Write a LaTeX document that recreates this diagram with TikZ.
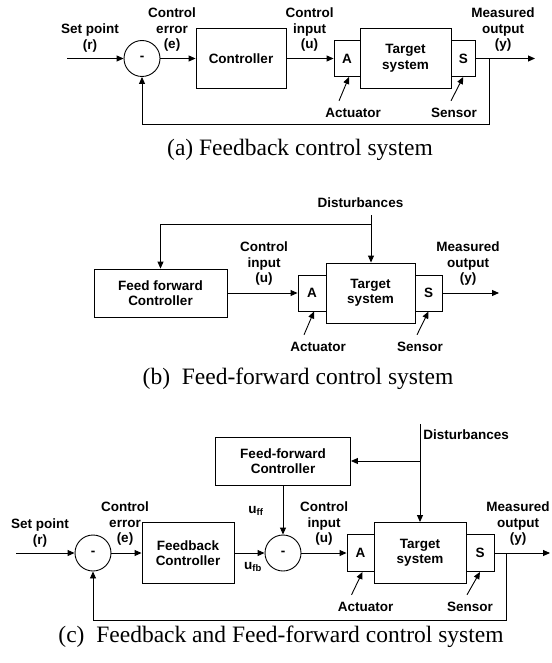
\documentclass[tikz,border=0pt]{standalone}
\usepackage{fontspec}
\setmainfont{Liberation Serif}
\setsansfont{Liberation Sans}
\usetikzlibrary{positioning,arrows.meta,calc}

\begin{document}
\begin{tikzpicture}[x=1pt, y=-1pt, line width=0.9pt,
  font=\sffamily\bfseries\fontsize{13.5}{15.5}\selectfont,
  >={Triangle[length=7pt,width=6pt]},
  blk/.style={draw, inner sep=0pt, align=center},
  sum/.style={draw, circle, minimum size=36, inner sep=0pt},
  lbl/.style={align=center, inner sep=0pt},
  subcap/.style={inner sep=0pt, font=\rmfamily\mdseries\fontsize{23.5}{26}\selectfont},
  flow/.style={->}]
\useasboundingbox (0,0) rectangle (551,663);
% -- (a) feedback loop
\node[sum] (sa) at (142,58.5) {-};
\node[blk, minimum width=90, minimum height=60] (ctla) at (241,58.5) {Controller};
\node[blk, minimum width=26, minimum height=36] (acta) at (347,58.5) {A};
\node[blk, minimum width=91, minimum height=60] (tgta) at (405.5,58.5) {Target\\system};
\node[blk, minimum width=24.5, minimum height=36] (sena) at (463.25,58.5) {S};
\coordinate (ina) at (67,58.5);
\coordinate (outa) at (535,58.5);
\coordinate (tapa) at (489,58.5);
\coordinate (bota) at (489,124);
\draw[flow] (ina) -- (sa);
\foreach \a/\b in {sa/ctla,ctla/acta,sena/outa} \draw[flow] (\a) -- (\b);
\draw[flow] (tapa) -- (bota) -| (sa);
\node[lbl] (spa) at (90,38) {Set point\\(r)};
\node[lbl] (cea) at (172,30) {Control\\error\\(e)};
\node[lbl] (cia) at (309.5,30) {Control\\input\\(u)};
\node[lbl] (moa) at (503,30) {Measured\\output\\(y)};
\node[lbl] (actla) at (353,113) {Actuator};
\node[lbl] (senla) at (454,113) {Sensor};
\draw[flow] ([xshift=-14pt,yshift=7pt]actla.north) -- ([xshift=2pt]acta.south);
\draw[flow] ([xshift=-3pt,yshift=7pt]senla.north) -- (sena.south);
\node[subcap] (capa) at (300,150) {(a) Feedback control system};
% -- (b) feed-forward
\node[lbl] (disb) at (360.5,203) {Disturbances};
\coordinate (dtopb) at (371,215);
\coordinate (dbrb) at (371,224);
\node[blk, minimum width=133, minimum height=48] (ffb) at (160.5,293) {Feed forward\\Controller};
\node[blk, minimum width=28, minimum height=36] (actb) at (312,293) {A};
\node[blk, minimum width=89, minimum height=60] (tgtb) at (370.5,293) {Target\\system};
\node[blk, minimum width=27, minimum height=36] (senb) at (428.5,293) {S};
\coordinate (outb) at (499,293);
\draw[flow] (dtopb) -- (dtopb |- tgtb.north);
\draw[flow] (dbrb) -| (ffb);
\draw[flow] (ffb) -- (actb);
\draw[flow] (senb) -- (outb);
\node[lbl] (cib) at (264,264) {Control\\input\\(u)};
\node[lbl] (mob) at (468,264) {Measured\\output\\(y)};
\node[lbl] (actlb) at (318,347) {Actuator};
\node[lbl] (senlb) at (420,347) {Sensor};
\draw[flow] ([xshift=-14pt,yshift=7pt]actlb.north) -- ([xshift=2pt]actb.south);
\draw[flow] ([xshift=-3pt,yshift=7pt]senlb.north) -- (senb.south);
\node[subcap] (capb) at (298,379) {(b)\enspace Feed-forward control system};
% -- (c) feedback + feed-forward
\node[lbl, anchor=west] (disc) at (423,435) {Disturbances};
\coordinate (dtopc) at (420,424);
\coordinate (dbrc) at (420,461);
\node[blk, minimum width=135, minimum height=48] (ffc) at (283,461) {Feed-forward\\Controller};
\node[sum] (s1c) at (93,553) {-};
\node[blk, minimum width=92, minimum height=61] (fbc) at (188,553) {Feedback\\Controller};
\node[sum] (s2c) at (283,553) {-};
\node[blk, minimum width=27, minimum height=37] (actc) at (360.5,553) {A};
\node[blk, minimum width=92, minimum height=61] (tgtc) at (420,553) {Target\\system};
\node[blk, minimum width=28, minimum height=37] (senc) at (480,553) {S};
\coordinate (inc) at (16,553);
\coordinate (outc) at (550,553);
\coordinate (tapc) at (506,553);
\coordinate (botc) at (506,620);
\draw[flow] (dtopc) -- (tgtc);
\draw[flow] (dbrc) -- (ffc);
\draw[flow] (ffc) -- (s2c);
\draw[flow] (inc) -- (s1c);
\foreach \a/\b in {s1c/fbc,fbc/s2c,s2c/actc,senc/outc} \draw[flow] (\a) -- (\b);
\draw[flow] (tapc) -- (botc) -| (s1c);
\node[lbl] (spc) at (40,533) {Set point\\(r)};
\node[lbl] (cec) at (125,524) {Control\\error\\(e)};
\node[lbl] (uff) at (256,511) {u\textsubscript{ff}};
\node[lbl] (ufb) at (253,567) {u\textsubscript{fb}};
\node[lbl] (cic) at (324,524) {Control\\input\\(u)};
\node[lbl] (moc) at (518,524) {Measured\\output\\(y)};
\node[lbl] (actlc) at (365.5,607) {Actuator};
\node[lbl] (senlc) at (470,607) {Sensor};
\draw[flow] ([xshift=-14pt,yshift=7pt]actlc.north) -- ([xshift=2pt]actc.south);
\draw[flow] ([xshift=-3pt,yshift=7pt]senlc.north) -- (senc.south);
\node[subcap] (capc) at (281,637) {(c)\enspace Feedback and Feed-forward control system};
\end{tikzpicture}
\end{document}
